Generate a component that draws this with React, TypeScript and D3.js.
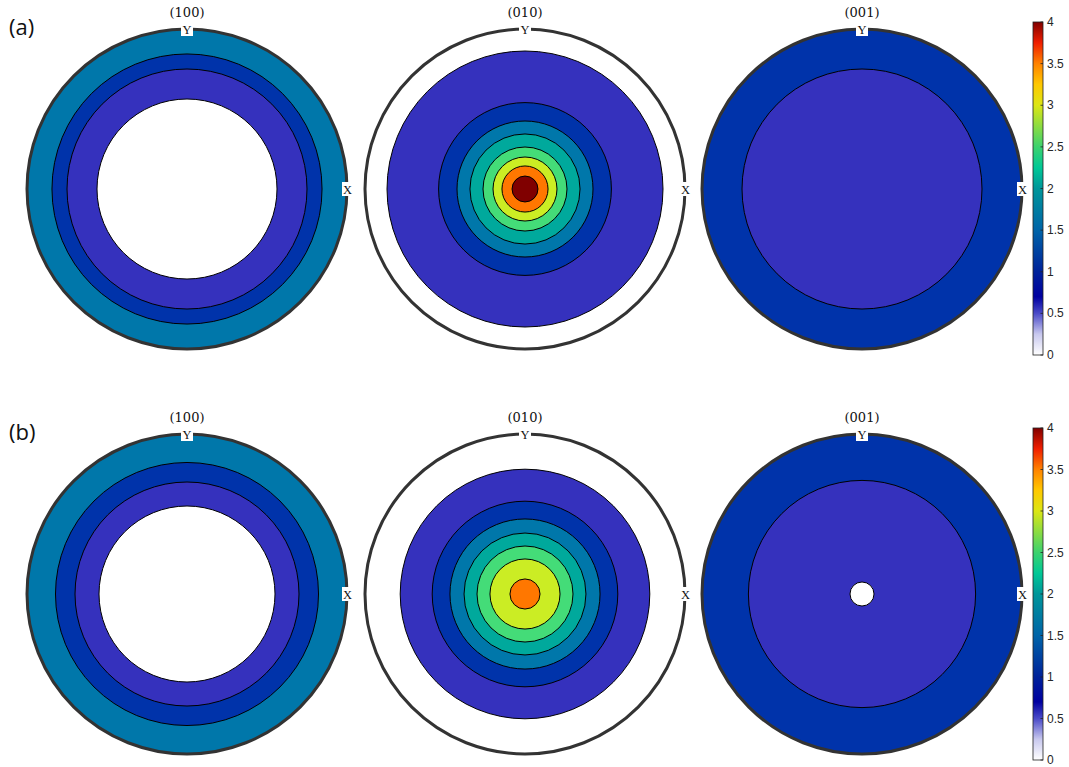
import React from "react";
import * as d3 from "d3";

// Band colours (contour level index -> colour)
const bandColors = ["#ffffff", "#3531bd", "#0033aa", "#0077aa", "#00a99c", "#44dc78", "#cbed24", "#ff7700", "#800000"];

// Pole figure titles
const poleTitles = ["(100)", "(010)", "(001)"];
const rowLabels = ["(a)", "(b)"];

// Contour boundaries (fraction of pole-figure radius) and band level, outer -> inner
const a100Radii = [1.0, 0.844, 0.75, 0.5625];
const a100Levels = [3, 2, 1, 0];
const a010Radii = [1.0, 0.8625, 0.54, 0.425, 0.344, 0.2625, 0.2, 0.144, 0.081];
const a010Levels = [0, 1, 2, 3, 4, 5, 6, 7, 8];
const a001Radii = [1.0, 0.75];
const a001Levels = [2, 1];
const b100Radii = [1.0, 0.822, 0.7, 0.55];
const b100Levels = [3, 2, 1, 0];
const b010Radii = [1.0, 0.78, 0.58, 0.469, 0.381, 0.3, 0.219, 0.094];
const b010Levels = [0, 1, 2, 3, 4, 5, 6, 7];
const b001Radii = [1.0, 0.71, 0.075];
const b001Levels = [2, 1, 0];

// Colorbar
const cbarTicks = [0, 0.5, 1, 1.5, 2, 2.5, 3, 3.5, 4];
const cbarStopValues = [0, 0.25, 0.5, 0.7, 1.0, 1.5, 2.0, 2.25, 2.5, 3.0, 3.25, 3.5, 3.75, 4.0];
const cbarStopColors = ["#ffffff", "#c8c8ee", "#4a4ac8", "#0000a0", "#00229a", "#0064a8", "#00969a", "#00c896", "#3cd26e", "#dce614", "#ffc800", "#ff8200", "#f01e00", "#800000"];

const rows = [
  { radii: [a100Radii, a010Radii, a001Radii], levels: [a100Levels, a010Levels, a001Levels] },
  { radii: [b100Radii, b010Radii, b001Radii], levels: [b100Levels, b010Levels, b001Levels] },
];

const W = 1069;
const H = 767;
const centersX = [187, 525, 862];
const centersY = [189, 594];
const R = 160;

export default function App() {
  const rScale = d3.scaleLinear().domain([0, 1]).range([0, R]);
  const cbTop = [22, 428];
  const cbBottom = [355, 760];
  const cbX = 1033;
  const cbW = 10;

  return (
    <svg width={W} height={H} style={{ position: "absolute", left: 0, top: 0 }}>
      <defs>
        <linearGradient id="cbgrad" x1="0" y1="1" x2="0" y2="0">
          {cbarStopValues.map((v, i) => (
            <stop key={i} offset={`${(v / 4) * 100}%`} stopColor={cbarStopColors[i]} />
          ))}
        </linearGradient>
      </defs>
      <rect x={0} y={0} width={W} height={H} fill="#fff" />
      {rows.map((row, ri) => {
        const cy = centersY[ri];
        return (
          <g key={ri}>
            <text x={9} y={cy - 154} fontFamily="'Open Sans', 'Noto Sans', sans-serif" fontSize={22} fill="#111">
              {rowLabels[ri]}
            </text>
            {row.radii.map((radii, pi) => {
              const cx = centersX[pi];
              const levels = row.levels[pi];
              return (
                <g key={pi}>
                  {radii.map((r, k) => (
                    <circle
                      key={k}
                      cx={cx}
                      cy={cy}
                      r={rScale(r)}
                      fill={bandColors[levels[k]]}
                      stroke={k === 0 ? "none" : "#000"}
                      strokeWidth={1}
                    />
                  ))}
                  <circle cx={cx} cy={cy} r={R} fill="none" stroke="#333" strokeWidth={3} />
                  <text
                    x={cx}
                    y={cy - R - 12}
                    textAnchor="middle"
                    fontFamily="'DejaVu Serif', 'Liberation Serif', serif"
                    fontSize={13}
                    fill="#111"
                  >
                    {poleTitles[pi]}
                  </text>
                  <rect x={cx - 6} y={cy - R - 6} width={12} height={13} fill="#fff" />
                  <text
                    x={cx}
                    y={cy - R + 4.5}
                    textAnchor="middle"
                    fontFamily="'Liberation Serif', serif"
                    fontSize={12.5}
                    fill="#111"
                  >
                    Y
                  </text>
                  <rect x={cx + R - 5} y={cy - 7} width={11} height={14} fill="#fff" />
                  <text
                    x={cx + R + 0.5}
                    y={cy + 4.5}
                    textAnchor="middle"
                    fontFamily="'Liberation Serif', serif"
                    fontSize={12.5}
                    fill="#111"
                  >
                    X
                  </text>
                </g>
              );
            })}
            {(() => {
              const y = d3.scaleLinear().domain([0, 4]).range([cbBottom[ri], cbTop[ri]]);
              return (
                <g>
                  <rect x={cbX} y={cbTop[ri]} width={cbW} height={cbBottom[ri] - cbTop[ri]} fill="url(#cbgrad)" stroke="#222" strokeWidth={0.8} />
                  {cbarTicks.map((t) => (
                    <g key={t}>
                      <line x1={cbX + cbW - 2.5} x2={cbX + cbW} y1={y(t)} y2={y(t)} stroke="#222" strokeWidth={0.8} />
                      <text x={cbX + cbW + 4} y={y(t) + 4} fontFamily="'Liberation Sans', Arial, sans-serif" fontSize={12} fill="#262626">
                        {t}
                      </text>
                    </g>
                  ))}
                </g>
              );
            })()}
          </g>
        );
      })}
    </svg>
  );
}
